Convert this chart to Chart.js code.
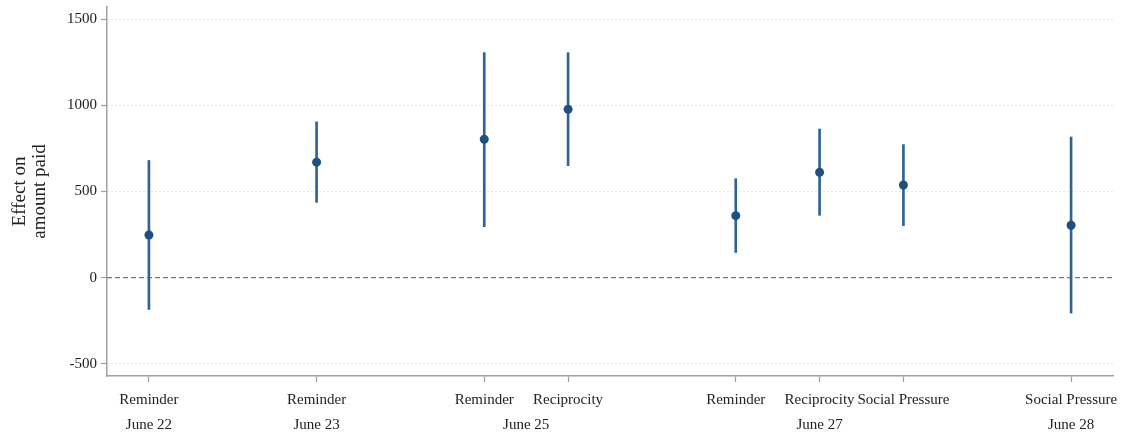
<!DOCTYPE html>
<html>
<head>
<meta charset="utf-8">
<script src="https://cdn.jsdelivr.net/npm/chart.js@4/dist/chart.umd.min.js"></script>
<style>
html,body{margin:0;padding:0;background:#fff;}
#wrap{width:1129px;height:438px;position:relative;}
</style>
</head>
<body>
<div id="wrap"><canvas id="c"></canvas></div>
<script>
// ---- data ----
const xPositions = [1, 3, 5, 6, 8, 9, 10, 12];
const treatments = ["Reminder", "Reminder", "Reminder", "Reciprocity", "Reminder", "Reciprocity", "Social Pressure", "Social Pressure"];
const estimates = [248, 670, 803, 977, 360, 611, 538, 304];
const ciLow = [-184, 437, 296, 650, 146, 362, 302, -205];
const ciHigh = [680, 904, 1305, 1305, 574, 862, 772, 816];
const dateLabels = ["June 22", "June 23", "June 25", "June 27", "June 28"];
const datePositions = [1, 3, 5.5, 9, 12];
const yTickValues = [-500, 0, 500, 1000, 1500];

const FONT = "'Liberation Serif', 'DejaVu Serif', serif";

new Chart(document.getElementById('c'), {
  type: 'bar',
  data: {
    datasets: [
      {
        type: 'line',
        data: [{x: 0.5, y: 0}, {x: 12.5, y: 0}],
        borderColor: '#777777',
        borderWidth: 1.2,
        borderDash: [5, 3],
        pointRadius: 0,
        order: 3
      },
      {
        type: 'bar',
        data: xPositions.map((x, i) => ({x: x, y: [ciLow[i], ciHigh[i]]})),
        backgroundColor: '#2e6395',
        barThickness: 2,
        borderWidth: 0,
        order: 2
      },
      {
        type: 'scatter',
        data: xPositions.map((x, i) => ({x: x, y: estimates[i]})),
        backgroundColor: '#1e5080',
        borderWidth: 0,
        pointRadius: 4.5,
        order: 1
      }
    ]
  },
  options: {
    responsive: true,
    maintainAspectRatio: false,
    animation: false,
    layout: {padding: {top: 7, right: 16, left: 0, bottom: 0}},
    plugins: {legend: {display: false}, tooltip: {enabled: false}},
    scales: {
      x: {
        type: 'linear',
        position: 'bottom',
        weight: 0,
        min: 0.5,
        max: 12.5,
        offset: false,
        afterBuildTicks: (s) => { s.ticks = xPositions.map(v => ({value: v})); },
        afterFit: (s) => { s.height = 36; },
        ticks: {
          autoSkip: false,
          maxRotation: 0,
          padding: 9,
          color: '#222',
          font: {family: FONT, size: 15},
          callback: (v) => { const i = xPositions.indexOf(v); return i >= 0 ? treatments[i] : ''; }
        },
        grid: {offset: false, drawOnChartArea: false, drawTicks: true, tickLength: 6, tickColor: '#a0a0a0', tickWidth: 1.2},
        border: {display: true, color: '#a0a0a0', width: 1.5}
      },
      x2: {
        type: 'linear',
        position: 'bottom',
        weight: 1,
        min: 0.5,
        max: 12.5,
        offset: false,
        afterBuildTicks: (s) => { s.ticks = datePositions.map(v => ({value: v})); },
        afterFit: (s) => { s.height = 26; },
        ticks: {
          autoSkip: false,
          maxRotation: 0,
          padding: 4,
          color: '#222',
          font: {family: FONT, size: 15},
          callback: (v) => { const i = datePositions.indexOf(v); return i >= 0 ? dateLabels[i] : ''; }
        },
        grid: {offset: false, display: false, drawTicks: false},
        border: {display: false}
      },
      y: {
        type: 'linear',
        min: -570,
        max: 1570,
        afterBuildTicks: (s) => { s.ticks = yTickValues.map(v => ({value: v})); },
        afterFit: (s) => { s.width = 107; s.paddingTop = 0; s.paddingBottom = 0; },
        ticks: {
          padding: 4,
          color: '#222',
          font: {family: FONT, size: 15},
          callback: (v) => String(v)
        },
        grid: {
          color: (ctx) => (ctx.tick && ctx.tick.value === 0) ? 'rgba(0,0,0,0)' : '#cfcfcf',
          lineWidth: 1,
          drawTicks: true,
          tickLength: 6,
          tickColor: '#a0a0a0',
          tickWidth: 1.2
        },
        border: {display: true, color: '#a0a0a0', width: 1.5, dash: [1, 3]},
        title: {
          display: true,
          text: ['Effect on', 'amount paid'],
          color: '#222',
          font: {family: FONT, size: 19, lineHeight: 1.05},
          padding: {top: 10, bottom: 2}
        }
      }
    }
  }
});
</script>
</body>
</html>
